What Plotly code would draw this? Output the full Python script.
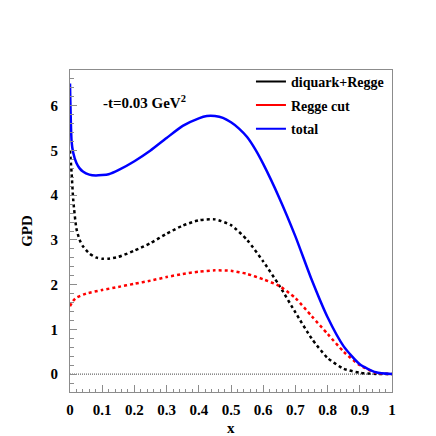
import plotly.graph_objects as go

# ---- data ----
x_dq = [0.0, 0.005, 0.01, 0.02, 0.03, 0.04, 0.06, 0.08, 0.10, 0.12, 0.15, 0.20, 0.25,
        0.30, 0.35, 0.40, 0.45, 0.50, 0.55, 0.60, 0.65, 0.70, 0.75, 0.80,
        0.85, 0.90, 0.95, 1.0]
y_dq = [5.0, 4.5, 3.9, 3.25, 3.0, 2.86, 2.70, 2.61, 2.58, 2.58, 2.62, 2.76, 2.93,
        3.14, 3.32, 3.44, 3.46, 3.33, 3.00, 2.52, 1.98, 1.38, 0.80, 0.36,
        0.12, 0.03, 0.005, 0.0]

x_cut = [0.0, 0.01, 0.02, 0.05, 0.10, 0.15, 0.20, 0.25, 0.30, 0.35, 0.40, 0.45,
         0.50, 0.55, 0.60, 0.65, 0.70, 0.75, 0.80, 0.85, 0.90, 0.95, 1.0]
y_cut = [1.52, 1.64, 1.71, 1.80, 1.88, 1.95, 2.02, 2.09, 2.17, 2.24, 2.29, 2.32,
         2.31, 2.24, 2.12, 1.97, 1.70, 1.30, 0.90, 0.50, 0.20, 0.03, 0.0]

x_tot = [0.0, 0.005, 0.01, 0.02, 0.03, 0.04, 0.06, 0.08, 0.10, 0.12, 0.15, 0.20, 0.25,
         0.30, 0.35, 0.40, 0.425, 0.45, 0.475, 0.50, 0.525, 0.55, 0.575, 0.60, 0.65,
         0.70, 0.75, 0.80, 0.85, 0.90, 0.95, 1.0]
y_tot = [6.5, 5.2, 4.95, 4.72, 4.60, 4.53, 4.46, 4.44, 4.45, 4.47, 4.56, 4.76, 5.00,
         5.28, 5.55, 5.72, 5.77, 5.77, 5.73, 5.63, 5.49, 5.30, 5.03, 4.70, 3.94,
         3.08, 2.12, 1.27, 0.62, 0.22, 0.04, 0.0]

names = ["diquark+Regge", "Regge cut", "total"]
colors = ["black", "red", "blue"]
x_ticks = [0, 0.1, 0.2, 0.3, 0.4, 0.5, 0.6, 0.7, 0.8, 0.9, 1]
x_ticktext = ["0", "0.1", "0.2", "0.3", "0.4", "0.5", "0.6", "0.7", "0.8", "0.9", "1"]
y_ticks = [0, 1, 2, 3, 4, 5, 6]

FONT = "Liberation Serif"
AX = "#8c8c8c"

fig = go.Figure()
# zero reference line
fig.add_trace(go.Scatter(x=[0, 1], y=[0, 0], mode="lines", showlegend=False,
                         line=dict(color="#444444", width=1, dash="1px,1px"),
                         hoverinfo="skip"))
fig.add_trace(go.Scatter(x=x_dq, y=y_dq, mode="lines", showlegend=False,
                         line=dict(color=colors[0], width=2.5, dash="dot", shape="spline", smoothing=0.6)))
fig.add_trace(go.Scatter(x=x_cut, y=y_cut, mode="lines", showlegend=False,
                         line=dict(color=colors[1], width=2.5, dash="dot", shape="spline", smoothing=0.6)))
fig.add_trace(go.Scatter(x=x_tot, y=y_tot, mode="lines", showlegend=False,
                         line=dict(color=colors[2], width=2.5, shape="spline", smoothing=0.6)))
# legend entries (solid samples as in the reference)
for i, (n, c) in enumerate(zip(names, colors)):
    fig.add_trace(go.Scatter(x=[None], y=[None], mode="lines", name=n, legendgroup=str(i),
                             line=dict(color=c, width=2)))

fig.update_layout(
    width=436, height=436,
    margin=dict(l=70, r=44, t=70, b=44, autoexpand=False),
    paper_bgcolor="white", plot_bgcolor="white",
    font=dict(family=FONT, size=15, color="black", weight="bold"),
    showlegend=True,
    legend=dict(x=0.562, y=1.013, xanchor="left", yanchor="top",
                bgcolor="rgba(0,0,0,0)", borderwidth=0,
                font=dict(family=FONT, size=14, weight="bold"),
                tracegroupgap=2.5, itemwidth=30),
    xaxis=dict(range=[0, 1], tickvals=x_ticks, ticktext=x_ticktext,
               showgrid=False, zeroline=False, automargin=False,
               showline=True, linecolor=AX, linewidth=1, mirror=True,
               ticks="inside", ticklen=7, tickcolor=AX, tickwidth=1,
               minor=dict(ticks="inside", ticklen=3.5, tickcolor=AX, dtick=0.02, showgrid=False),
               tickfont=dict(family=FONT, size=15, weight="bold"),
               ticklabelstandoff=4),
    yaxis=dict(range=[-0.4, 6.8], tickvals=y_ticks,
               showgrid=False, zeroline=False, automargin=False,
               showline=True, linecolor=AX, linewidth=1, mirror=True,
               ticks="inside", ticklen=7, tickcolor=AX, tickwidth=1,
               minor=dict(ticks="inside", ticklen=3.5, tickcolor=AX, dtick=0.2, showgrid=False),
               tickfont=dict(family=FONT, size=15, weight="bold"),
               ticklabelstandoff=8,
               title=dict(text="GPD", font=dict(family=FONT, size=15, weight="bold"), standoff=14)),
    annotations=[
        dict(text="-t=0.03 GeV<sup>2</sup>", xref="paper", yref="paper",
             x=0.095, y=0.90, xanchor="left", yanchor="middle", showarrow=False,
             font=dict(family=FONT, size=15, weight="bold")),
        dict(text="x", xref="paper", yref="paper", x=0.5, y=-0.08,
             xanchor="center", yanchor="top", showarrow=False,
             font=dict(family=FONT, size=15, weight="bold")),
    ],
)

fig.write_html("out.html", config={"displayModeBar": False},
               post_script="document.body.style.margin='0px';")
